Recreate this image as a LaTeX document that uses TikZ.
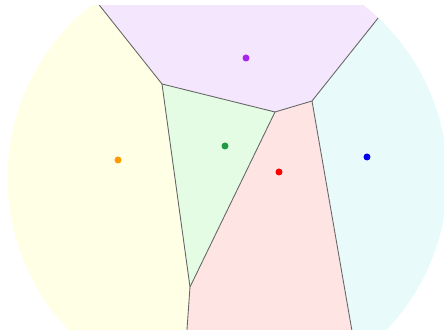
\documentclass[tikz,border=0pt]{standalone}
\usepackage{xcolor}
\usepackage{tikz}
\usetikzlibrary{calc}
\definecolor{cellyellow}{HTML}{FFFFE6}
\definecolor{cellpurple}{HTML}{F4E6FC}
\definecolor{cellgreen}{HTML}{E4FCE4}
\definecolor{cellred}{HTML}{FFE4E4}
\definecolor{cellcyan}{HTML}{E8FBFA}
\definecolor{siteorange}{HTML}{FF9900}
\definecolor{sitepurple}{HTML}{A625EC}
\definecolor{sitegreen}{HTML}{229944}
\definecolor{sitered}{HTML}{FF0000}
\definecolor{siteblue}{HTML}{0000F0}
\tikzset{
  celledge/.style={draw=black!60, line width=0.5pt},
  sitedot/.style={circle, inner sep=0pt, minimum size=0.14cm, draw=none}
}
\begin{document}
\begin{tikzpicture}[x=0.02cm, y=-0.02cm]
\useasboundingbox (0,0) rectangle (444,330);
\coordinate (A) at (162,84);
\coordinate (B) at (275,112);
\coordinate (C) at (312,101);
\coordinate (D) at (190,287);
\coordinate (topl) at (55.5,-50);
\coordinate (topr) at (432.4,-50);
\coordinate (botl) at (182,400);
\coordinate (botr) at (364,400);
\begin{scope}
\clip (0,6) rectangle (444,330);
\clip (227.5,178) circle [radius=4.4cm];
\fill[cellpurple] (topl) -- (A) -- (B) -- (C) -- (topr) -- cycle;
\fill[cellyellow] (topl) -- (A) -- (D) -- (botl) -- (-100,400) -- (-100,-50) -- cycle;
\fill[cellgreen] (A) -- (B) -- (D) -- cycle;
\fill[cellred] (B) -- (C) -- (botr) -- (botl) -- (D) -- cycle;
\fill[cellcyan] (C) -- (topr) -- (600,-50) -- (600,400) -- (botr) -- cycle;
\draw[celledge] (topl) -- (A) -- (B) -- (C) -- (topr);
\draw[celledge] (A) -- (D) -- (botl);
\draw[celledge] (B) -- (D);
\draw[celledge] (C) -- (botr);
\end{scope}
\node[sitedot, fill=sitepurple] (purplesite) at (246,58) {};
\node[sitedot, fill=siteorange] (orangesite) at (118,160) {};
\node[sitedot, fill=sitegreen] (greensite) at (225,146) {};
\node[sitedot, fill=sitered] (redsite) at (279,172) {};
\node[sitedot, fill=siteblue] (bluesite) at (367,157) {};
\end{tikzpicture}
\end{document}
